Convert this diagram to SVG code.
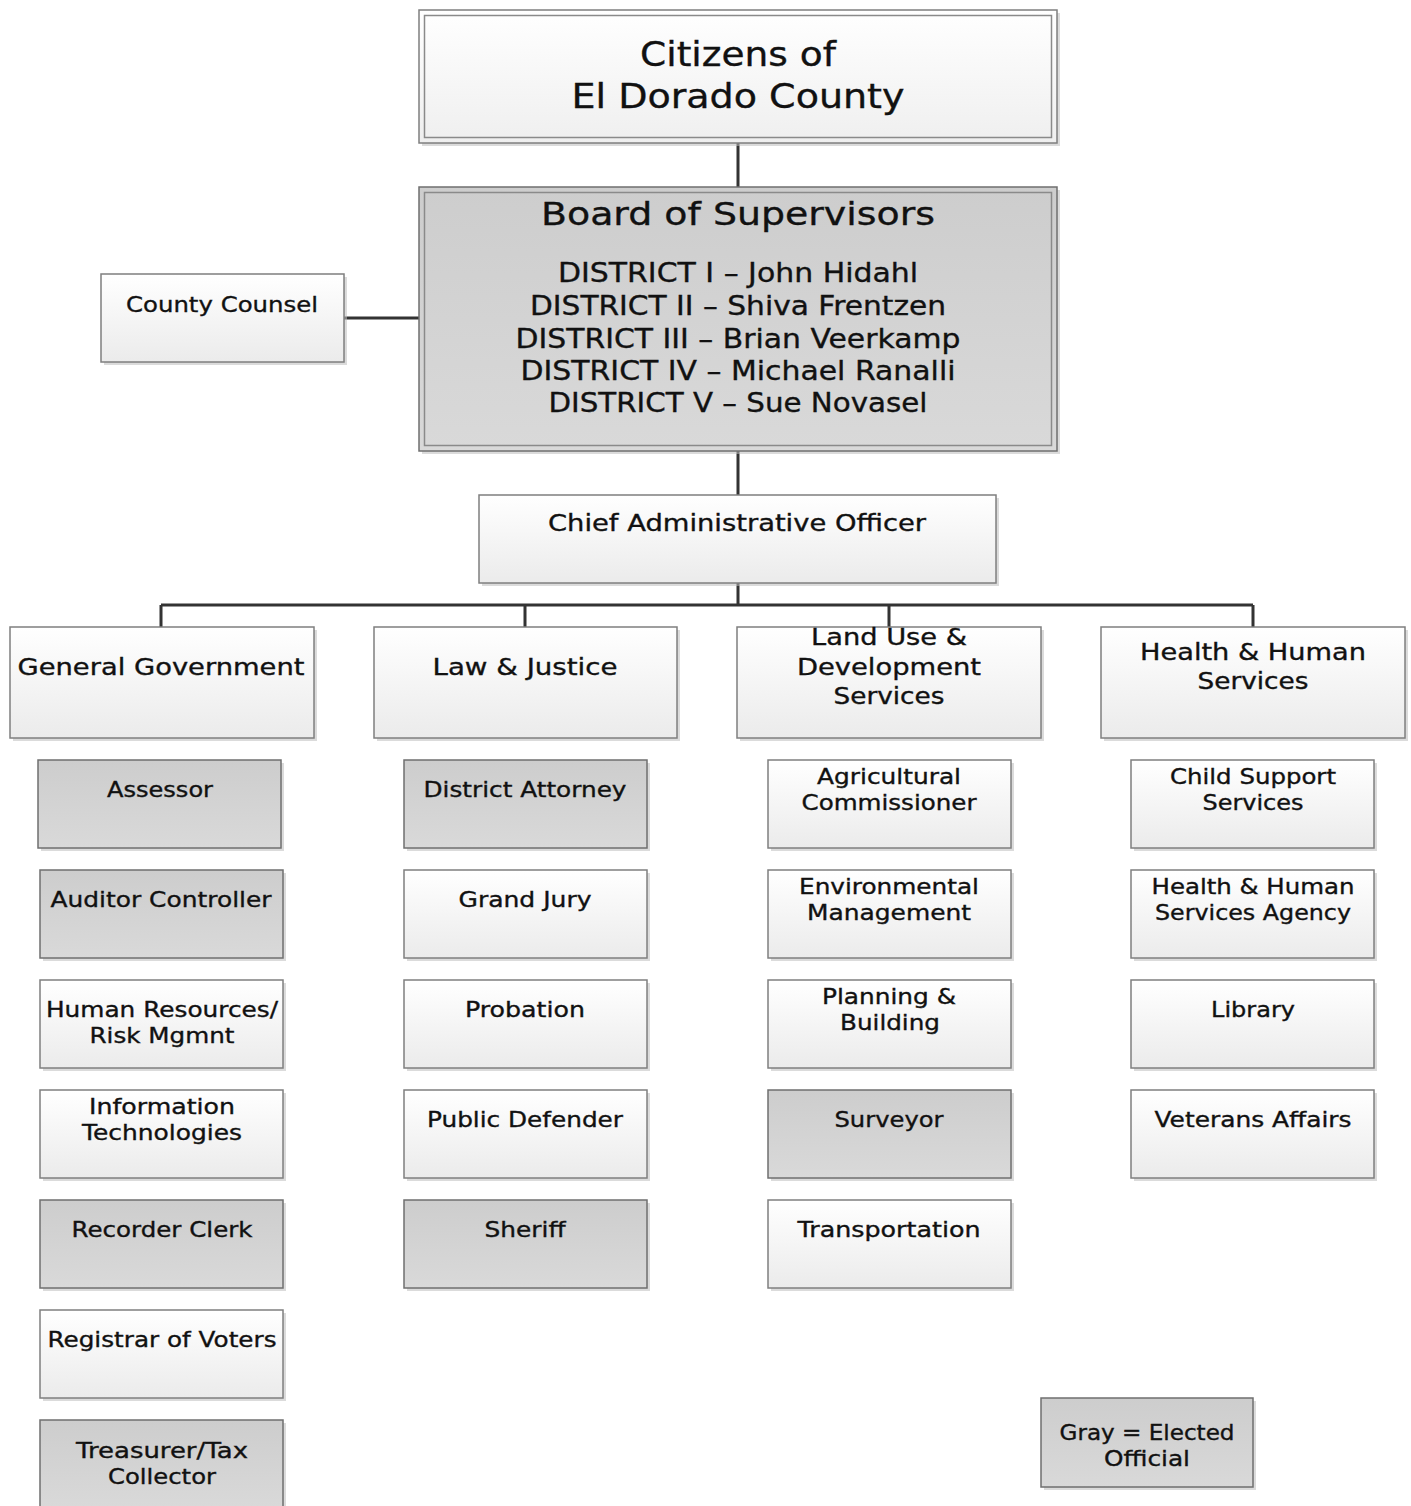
<svg xmlns="http://www.w3.org/2000/svg" width="1411" height="1506" viewBox="0 0 1411 1506">
<defs>
<linearGradient id="gw" x1="0" y1="0" x2="0" y2="1"><stop offset="0" stop-color="#ffffff"/><stop offset="1" stop-color="#ebebeb"/></linearGradient>
<linearGradient id="gg" x1="0" y1="0" x2="0" y2="1"><stop offset="0" stop-color="#cdcdcd"/><stop offset="1" stop-color="#d9d9d9"/></linearGradient>
<linearGradient id="gc" x1="0" y1="0" x2="0" y2="1"><stop offset="0" stop-color="#ffffff"/><stop offset="1" stop-color="#efefef"/></linearGradient>
</defs>
<style>
.sh{fill:#bdbdbd;opacity:.55}
.w{fill:url(#gw);stroke:#7f7f7f;stroke-width:1.5}
.g{fill:url(#gg);stroke:#6f6f6f;stroke-width:1.5}
.in{fill:none;stroke:#8a8a8a;stroke-width:1.5}
text{font-family:"DejaVu Sans","Liberation Sans",sans-serif;fill:#111;stroke:#111;stroke-width:0.35;text-anchor:middle}
.t33{font-size:33px}
.t32{font-size:32px}
.t26{font-size:26px}
.t23{font-size:23px}
.t22{font-size:22px}
.t21{font-size:21px}
.c{fill:none;stroke:#333;stroke-width:3}
</style>
<rect width="1411" height="1506" fill="#ffffff"/>
<g id="connectors">
<path class="c" d="M738 143V187M738 451V495M344 318H419M738 583V605M161 605H1253M161 605V627M525 605V627M889 605V627M1253 605V627"/>
</g>
<g id="citizens">
<rect class="sh" x="422" y="13" width="638" height="133"/>
<rect x="419" y="10" width="638" height="133" fill="url(#gc)" stroke="#7f7f7f" stroke-width="1.5"/>
<rect class="in" x="424.5" y="15.5" width="627" height="122"/>
<text class="t33" x="738" y="66" textLength="196" lengthAdjust="spacingAndGlyphs">Citizens of</text>
<text class="t33" x="738" y="108" textLength="333" lengthAdjust="spacingAndGlyphs">El Dorado County</text>
</g>
<g id="board">
<rect class="sh" x="422" y="190" width="638" height="264"/>
<rect x="419" y="187" width="638" height="264" fill="url(#gg)" stroke="#6f6f6f" stroke-width="1.5"/>
<rect class="in" x="424.5" y="192.5" width="627" height="253"/>
<text class="t32" x="738" y="225" textLength="394" lengthAdjust="spacingAndGlyphs">Board of Supervisors</text>
<text class="t26" x="738" y="282" textLength="360" lengthAdjust="spacingAndGlyphs">DISTRICT I – John Hidahl</text>
<text class="t26" x="738" y="315" textLength="416" lengthAdjust="spacingAndGlyphs">DISTRICT II – Shiva Frentzen</text>
<text class="t26" x="738" y="348" textLength="445" lengthAdjust="spacingAndGlyphs">DISTRICT III – Brian Veerkamp</text>
<text class="t26" x="738" y="380" textLength="435" lengthAdjust="spacingAndGlyphs">DISTRICT IV – Michael Ranalli</text>
<text class="t26" x="738" y="412" textLength="379" lengthAdjust="spacingAndGlyphs">DISTRICT V – Sue Novasel</text>
</g>
<g id="county-counsel">
<rect class="sh" x="104" y="277" width="243" height="88"/>
<rect class="w" x="101" y="274" width="243" height="88"/>
<text class="t22" x="222" y="312" textLength="192" lengthAdjust="spacingAndGlyphs">County Counsel</text>
</g>
<g id="cao">
<rect class="sh" x="482" y="498" width="517" height="88"/>
<rect class="w" x="479" y="495" width="517" height="88"/>
<text class="t23" x="737" y="531" textLength="378" lengthAdjust="spacingAndGlyphs">Chief Administrative Officer</text>
</g>
<g id="general-government">
<rect class="sh" x="13" y="630" width="304" height="111"/>
<rect class="w" x="10" y="627" width="304" height="111"/>
<text class="t23" x="161" y="675" textLength="287" lengthAdjust="spacingAndGlyphs">General Government</text>
</g>
<g id="law-justice">
<rect class="sh" x="377" y="630" width="303" height="111"/>
<rect class="w" x="374" y="627" width="303" height="111"/>
<text class="t23" x="525" y="675" textLength="185" lengthAdjust="spacingAndGlyphs">Law &amp; Justice</text>
</g>
<g id="land-use">
<rect class="sh" x="740" y="630" width="304" height="111"/>
<rect class="w" x="737" y="627" width="304" height="111"/>
<text class="t23" x="889" y="645" textLength="156" lengthAdjust="spacingAndGlyphs">Land Use &amp;</text>
<text class="t23" x="889" y="675" textLength="184" lengthAdjust="spacingAndGlyphs">Development</text>
<text class="t23" x="889" y="704" textLength="111" lengthAdjust="spacingAndGlyphs">Services</text>
</g>
<g id="health-human">
<rect class="sh" x="1104" y="630" width="304" height="111"/>
<rect class="w" x="1101" y="627" width="304" height="111"/>
<text class="t23" x="1253" y="660" textLength="226" lengthAdjust="spacingAndGlyphs">Health &amp; Human</text>
<text class="t23" x="1253" y="689" textLength="111" lengthAdjust="spacingAndGlyphs">Services</text>
</g>
<g id="assessor"><rect class="sh" x="41" y="763" width="243" height="88"/><rect class="g" x="38" y="760" width="243" height="88"/>
<text class="t21" x="160" y="797" textLength="106" lengthAdjust="spacingAndGlyphs">Assessor</text></g>
<g id="auditor"><rect class="sh" x="43" y="873" width="243" height="88"/><rect class="g" x="40" y="870" width="243" height="88"/>
<text class="t21" x="161" y="907" textLength="221" lengthAdjust="spacingAndGlyphs">Auditor Controller</text></g>
<g id="human-resources"><rect class="sh" x="43" y="983" width="243" height="88"/><rect class="w" x="40" y="980" width="243" height="88"/>
<text class="t21" x="162" y="1017" textLength="232" lengthAdjust="spacingAndGlyphs">Human Resources/</text>
<text class="t21" x="162" y="1043" textLength="145" lengthAdjust="spacingAndGlyphs">Risk Mgmnt</text></g>
<g id="information-technologies"><rect class="sh" x="43" y="1093" width="243" height="88"/><rect class="w" x="40" y="1090" width="243" height="88"/>
<text class="t21" x="162" y="1114" textLength="146" lengthAdjust="spacingAndGlyphs">Information</text>
<text class="t21" x="162" y="1140" textLength="160" lengthAdjust="spacingAndGlyphs">Technologies</text></g>
<g id="recorder-clerk"><rect class="sh" x="43" y="1203" width="243" height="88"/><rect class="g" x="40" y="1200" width="243" height="88"/>
<text class="t21" x="162" y="1237" textLength="181" lengthAdjust="spacingAndGlyphs">Recorder Clerk</text></g>
<g id="registrar"><rect class="sh" x="43" y="1313" width="243" height="88"/><rect class="w" x="40" y="1310" width="243" height="88"/>
<text class="t21" x="162" y="1347" textLength="229" lengthAdjust="spacingAndGlyphs">Registrar of Voters</text></g>
<g id="treasurer"><rect class="sh" x="43" y="1423" width="243" height="88"/><rect class="g" x="40" y="1420" width="243" height="88"/>
<text class="t21" x="162" y="1458" textLength="172" lengthAdjust="spacingAndGlyphs">Treasurer/Tax</text>
<text class="t21" x="162" y="1484" textLength="108" lengthAdjust="spacingAndGlyphs">Collector</text></g>
<g id="district-attorney"><rect class="sh" x="407" y="763" width="243" height="88"/><rect class="g" x="404" y="760" width="243" height="88"/>
<text class="t21" x="525" y="797" textLength="203" lengthAdjust="spacingAndGlyphs">District Attorney</text></g>
<g id="grand-jury"><rect class="sh" x="407" y="873" width="243" height="88"/><rect class="w" x="404" y="870" width="243" height="88"/>
<text class="t21" x="525" y="907" textLength="133" lengthAdjust="spacingAndGlyphs">Grand Jury</text></g>
<g id="probation"><rect class="sh" x="407" y="983" width="243" height="88"/><rect class="w" x="404" y="980" width="243" height="88"/>
<text class="t21" x="525" y="1017" textLength="120" lengthAdjust="spacingAndGlyphs">Probation</text></g>
<g id="public-defender"><rect class="sh" x="407" y="1093" width="243" height="88"/><rect class="w" x="404" y="1090" width="243" height="88"/>
<text class="t21" x="525" y="1127" textLength="196" lengthAdjust="spacingAndGlyphs">Public Defender</text></g>
<g id="sheriff"><rect class="sh" x="407" y="1203" width="243" height="88"/><rect class="g" x="404" y="1200" width="243" height="88"/>
<text class="t21" x="525" y="1237" textLength="81" lengthAdjust="spacingAndGlyphs">Sheriff</text></g>
<g id="agricultural"><rect class="sh" x="771" y="763" width="243" height="88"/><rect class="w" x="768" y="760" width="243" height="88"/>
<text class="t21" x="889" y="784" textLength="144" lengthAdjust="spacingAndGlyphs">Agricultural</text>
<text class="t21" x="889" y="810" textLength="175" lengthAdjust="spacingAndGlyphs">Commissioner</text></g>
<g id="environmental"><rect class="sh" x="771" y="873" width="243" height="88"/><rect class="w" x="768" y="870" width="243" height="88"/>
<text class="t21" x="889" y="894" textLength="180" lengthAdjust="spacingAndGlyphs">Environmental</text>
<text class="t21" x="889" y="920" textLength="164" lengthAdjust="spacingAndGlyphs">Management</text></g>
<g id="planning"><rect class="sh" x="771" y="983" width="243" height="88"/><rect class="w" x="768" y="980" width="243" height="88"/>
<text class="t21" x="889" y="1004" textLength="134" lengthAdjust="spacingAndGlyphs">Planning &amp;</text>
<text class="t21" x="890" y="1030" textLength="100" lengthAdjust="spacingAndGlyphs">Building</text></g>
<g id="surveyor"><rect class="sh" x="771" y="1093" width="243" height="88"/><rect class="g" x="768" y="1090" width="243" height="88"/>
<text class="t21" x="889" y="1127" textLength="109" lengthAdjust="spacingAndGlyphs">Surveyor</text></g>
<g id="transportation"><rect class="sh" x="771" y="1203" width="243" height="88"/><rect class="w" x="768" y="1200" width="243" height="88"/>
<text class="t21" x="889" y="1237" textLength="183" lengthAdjust="spacingAndGlyphs">Transportation</text></g>
<g id="child-support"><rect class="sh" x="1134" y="763" width="243" height="88"/><rect class="w" x="1131" y="760" width="243" height="88"/>
<text class="t21" x="1253" y="784" textLength="166" lengthAdjust="spacingAndGlyphs">Child Support</text>
<text class="t21" x="1253" y="810" textLength="101" lengthAdjust="spacingAndGlyphs">Services</text></g>
<g id="hhsa"><rect class="sh" x="1134" y="873" width="243" height="88"/><rect class="w" x="1131" y="870" width="243" height="88"/>
<text class="t21" x="1253" y="894" textLength="203" lengthAdjust="spacingAndGlyphs">Health &amp; Human</text>
<text class="t21" x="1253" y="920" textLength="196" lengthAdjust="spacingAndGlyphs">Services Agency</text></g>
<g id="library"><rect class="sh" x="1134" y="983" width="243" height="88"/><rect class="w" x="1131" y="980" width="243" height="88"/>
<text class="t21" x="1253" y="1017" textLength="84" lengthAdjust="spacingAndGlyphs">Library</text></g>
<g id="veterans"><rect class="sh" x="1134" y="1093" width="243" height="88"/><rect class="w" x="1131" y="1090" width="243" height="88"/>
<text class="t21" x="1253" y="1127" textLength="197" lengthAdjust="spacingAndGlyphs">Veterans Affairs</text></g>
<g id="legend"><rect class="sh" x="1044" y="1401" width="212" height="89"/><rect class="g" x="1041" y="1398" width="212" height="89"/>
<text class="t21" x="1147" y="1440" textLength="175" lengthAdjust="spacingAndGlyphs">Gray = Elected</text>
<text class="t21" x="1147" y="1466" textLength="86" lengthAdjust="spacingAndGlyphs">Official</text></g>
</svg>
